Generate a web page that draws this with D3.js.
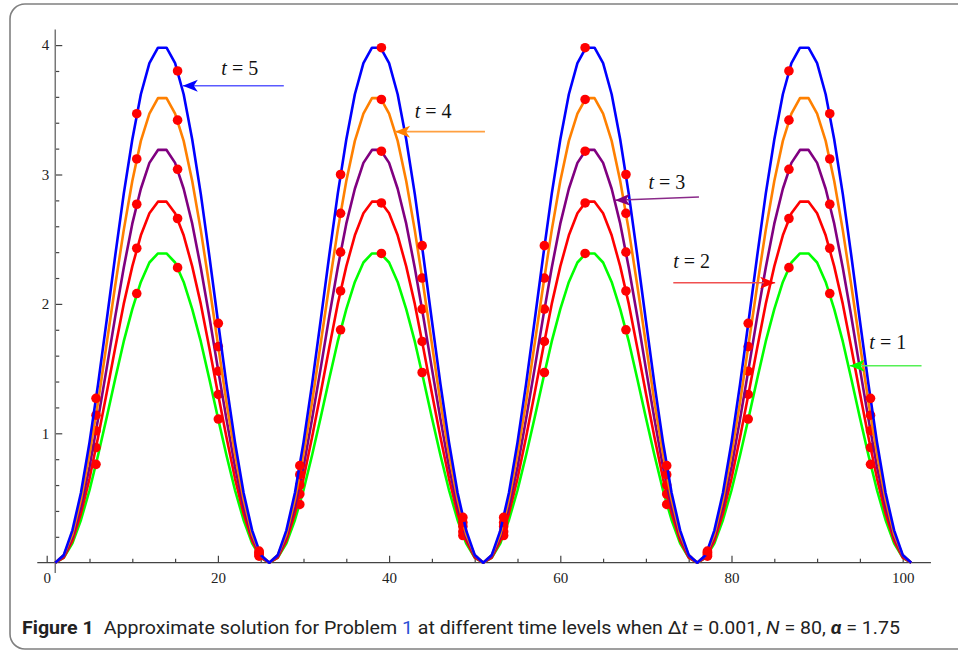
<!DOCTYPE html>
<html>
<head>
<meta charset="utf-8">
<script src="https://cdn.jsdelivr.net/npm/d3@7"></script>
<style>
  body { margin: 0; background: #fff; }
  svg { display: block; }
</style>
</head>
<body>
<script>
// numerical solution at nodes x = 1..101 (index as x, like ListLinePlot)
const u1 = [
  0, 0.04, 0.15, 0.33, 0.56, 0.83, 1.12, 1.42, 1.71, 1.96, 2.17, 2.32, 2.39, 2.39, 2.32, 2.17, 1.96, 1.71, 1.42, 1.12, 0.83, 0.56, 0.33, 0.15, 0.04,
  0, 0.04, 0.15, 0.33, 0.56, 0.83, 1.12, 1.42, 1.71, 1.96, 2.17, 2.32, 2.39, 2.39, 2.32, 2.17, 1.96, 1.71, 1.42, 1.12, 0.83, 0.56, 0.33, 0.15, 0.04,
  0, 0.04, 0.15, 0.33, 0.56, 0.83, 1.12, 1.42, 1.71, 1.96, 2.17, 2.32, 2.39, 2.39, 2.32, 2.17, 1.96, 1.71, 1.42, 1.12, 0.83, 0.56, 0.33, 0.15, 0.04,
  0, 0.04, 0.15, 0.33, 0.56, 0.83, 1.12, 1.42, 1.71, 1.96, 2.17, 2.32, 2.39, 2.39, 2.32, 2.17, 1.96, 1.71, 1.42, 1.12, 0.83, 0.56, 0.33, 0.15, 0.04,
  0
];
const u2 = [
  0, 0.04, 0.17, 0.38, 0.65, 0.97, 1.31, 1.66, 2.00, 2.29, 2.53, 2.70, 2.79, 2.79, 2.70, 2.53, 2.29, 2.00, 1.66, 1.31, 0.97, 0.65, 0.38, 0.17, 0.04,
  0, 0.04, 0.17, 0.38, 0.65, 0.97, 1.31, 1.66, 2.00, 2.29, 2.53, 2.70, 2.79, 2.79, 2.70, 2.53, 2.29, 2.00, 1.66, 1.31, 0.97, 0.65, 0.38, 0.17, 0.04,
  0, 0.04, 0.17, 0.38, 0.65, 0.97, 1.31, 1.66, 2.00, 2.29, 2.53, 2.70, 2.79, 2.79, 2.70, 2.53, 2.29, 2.00, 1.66, 1.31, 0.97, 0.65, 0.38, 0.17, 0.04,
  0, 0.04, 0.17, 0.38, 0.65, 0.97, 1.31, 1.66, 2.00, 2.29, 2.53, 2.70, 2.79, 2.79, 2.70, 2.53, 2.29, 2.00, 1.66, 1.31, 0.97, 0.65, 0.38, 0.17, 0.04,
  0
];
const u3 = [
  0, 0.05, 0.20, 0.43, 0.74, 1.11, 1.50, 1.90, 2.28, 2.62, 2.89, 3.09, 3.19, 3.19, 3.09, 2.89, 2.62, 2.28, 1.90, 1.50, 1.11, 0.74, 0.43, 0.20, 0.05,
  0, 0.05, 0.20, 0.43, 0.74, 1.11, 1.50, 1.90, 2.28, 2.62, 2.89, 3.09, 3.19, 3.19, 3.09, 2.89, 2.62, 2.28, 1.90, 1.50, 1.11, 0.74, 0.43, 0.20, 0.05,
  0, 0.05, 0.20, 0.43, 0.74, 1.11, 1.50, 1.90, 2.28, 2.62, 2.89, 3.09, 3.19, 3.19, 3.09, 2.89, 2.62, 2.28, 1.90, 1.50, 1.11, 0.74, 0.43, 0.20, 0.05,
  0, 0.05, 0.20, 0.43, 0.74, 1.11, 1.50, 1.90, 2.28, 2.62, 2.89, 3.09, 3.19, 3.19, 3.09, 2.89, 2.62, 2.28, 1.90, 1.50, 1.11, 0.74, 0.43, 0.20, 0.05,
  0
];
const u4 = [
  0, 0.06, 0.22, 0.49, 0.84, 1.24, 1.69, 2.14, 2.57, 2.95, 3.26, 3.47, 3.59, 3.59, 3.47, 3.26, 2.95, 2.57, 2.14, 1.69, 1.24, 0.84, 0.49, 0.22, 0.06,
  0, 0.06, 0.22, 0.49, 0.84, 1.24, 1.69, 2.14, 2.57, 2.95, 3.26, 3.47, 3.59, 3.59, 3.47, 3.26, 2.95, 2.57, 2.14, 1.69, 1.24, 0.84, 0.49, 0.22, 0.06,
  0, 0.06, 0.22, 0.49, 0.84, 1.24, 1.69, 2.14, 2.57, 2.95, 3.26, 3.47, 3.59, 3.59, 3.47, 3.26, 2.95, 2.57, 2.14, 1.69, 1.24, 0.84, 0.49, 0.22, 0.06,
  0, 0.06, 0.22, 0.49, 0.84, 1.24, 1.69, 2.14, 2.57, 2.95, 3.26, 3.47, 3.59, 3.59, 3.47, 3.26, 2.95, 2.57, 2.14, 1.69, 1.24, 0.84, 0.49, 0.22, 0.06,
  0
];
const u5 = [
  0, 0.06, 0.25, 0.54, 0.93, 1.38, 1.87, 2.37, 2.85, 3.27, 3.62, 3.86, 3.98, 3.98, 3.86, 3.62, 3.27, 2.85, 2.37, 1.87, 1.38, 0.93, 0.54, 0.25, 0.06,
  0, 0.06, 0.25, 0.54, 0.93, 1.38, 1.87, 2.37, 2.85, 3.27, 3.62, 3.86, 3.98, 3.98, 3.86, 3.62, 3.27, 2.85, 2.37, 1.87, 1.38, 0.93, 0.54, 0.25, 0.06,
  0, 0.06, 0.25, 0.54, 0.93, 1.38, 1.87, 2.37, 2.85, 3.27, 3.62, 3.86, 3.98, 3.98, 3.86, 3.62, 3.27, 2.85, 2.37, 1.87, 1.38, 0.93, 0.54, 0.25, 0.06,
  0, 0.06, 0.25, 0.54, 0.93, 1.38, 1.87, 2.37, 2.85, 3.27, 3.62, 3.86, 3.98, 3.98, 3.86, 3.62, 3.27, 2.85, 2.37, 1.87, 1.38, 0.93, 0.54, 0.25, 0.06,
  0
];

// exact solution points (red dots)
const dotX = [5.76, 10.52, 15.29, 20.05, 24.81, 29.57, 34.33, 39.10, 43.86, 48.62,
              53.38, 58.14, 62.90, 67.67, 72.43, 77.19, 81.95, 86.71, 91.48, 96.24];
const e1 = [0.76, 2.08, 2.28, 1.11, 0.05, 0.45, 1.80, 2.39, 1.47, 0.21, 0.21, 1.47, 2.39, 1.80, 0.45, 0.05, 1.11, 2.28, 2.08, 0.76];
const e2 = [0.89, 2.43, 2.66, 1.30, 0.06, 0.53, 2.10, 2.78, 1.71, 0.24, 0.24, 1.71, 2.78, 2.10, 0.53, 0.06, 1.30, 2.66, 2.43, 0.89];
const e3 = [1.02, 2.77, 3.04, 1.48, 0.07, 0.60, 2.40, 3.18, 1.96, 0.28, 0.28, 1.96, 3.18, 2.40, 0.60, 0.07, 1.48, 3.04, 2.77, 1.02];
const e4 = [1.14, 3.12, 3.42, 1.67, 0.08, 0.68, 2.70, 3.58, 2.20, 0.31, 0.31, 2.20, 3.58, 2.70, 0.68, 0.08, 1.67, 3.42, 3.12, 1.14];
const e5 = [1.27, 3.47, 3.80, 1.85, 0.09, 0.75, 3.00, 3.98, 2.45, 0.35, 0.35, 2.45, 3.98, 3.00, 0.75, 0.09, 1.85, 3.80, 3.47, 1.27];

// tick values
const xMajor = [0, 20, 40, 60, 80, 100];
const xMinor = [5, 10, 15, 25, 30, 35, 45, 50, 55, 65, 70, 75, 85, 90, 95];
const yMajor = [1, 2, 3, 4];
const yMinor = [0.2, 0.4, 0.6, 0.8, 1.2, 1.4, 1.6, 1.8, 2.2, 2.4, 2.6, 2.8, 3.2, 3.4, 3.6, 3.8];

// arrow labels: t, label position, arrow tail and tip (data coords)
const labelT = [1, 2, 3, 4, 5];
const labelPos = [[96.1, 1.65], [73.2, 2.275], [70.3, 2.886], [43.0, 3.437], [20.4, 3.77]];
const arrowTail = [[102.2, 1.522], [73.2, 2.164], [76.2, 2.826], [51.2, 3.331], [27.7, 3.686]];
const arrowTip = [[93.8, 1.522], [85.1, 2.164], [66.4, 2.801], [40.7, 3.331], [15.9, 3.686]];

const colors = ["#00ff00", "#ff0000", "#800080", "#ff8000", "#0000ff"];
const arrowColors = ["#55f055", "#f05050", "#8a2a8a", "#ffa040", "#5a5aff"];

const W = 958, H = 651;
const svg = d3.select("body").append("svg").attr("width", W).attr("height", H);

// figure frame
svg.append("rect")
  .attr("x", 10).attr("y", 4)
  .attr("width", 1000).attr("height", 645)
  .attr("rx", 15).attr("ry", 15)
  .attr("fill", "none").attr("stroke", "#808080").attr("stroke-width", 1.6);

const x = d3.scaleLinear().domain([0, 100]).range([46.7, 902.7]);
const y = d3.scaleLinear().domain([0, 4]).range([562.7, 45.1]);

const axisColor = "#444";

// x axis
const gx = svg.append("g").attr("transform", `translate(0,${y(0)})`);
gx.call(d3.axisBottom(x).tickValues(xMajor).tickSize(-7).tickPadding(10).tickFormat(d3.format("d")));
gx.append("g").call(d3.axisBottom(x).tickValues(xMinor).tickSize(-4).tickFormat(""));
gx.selectAll(".domain").remove();
gx.append("line").attr("x1", x(-1.1)).attr("x2", x(103.3)).attr("stroke", axisColor).attr("stroke-width", 1.3);

// y axis
const gy = svg.append("g").attr("transform", `translate(${x(1)},0)`);
gy.call(d3.axisLeft(y).tickValues(yMajor).tickSize(-7).tickPadding(6).tickFormat(d3.format("d")));
gy.append("g").call(d3.axisLeft(y).tickValues(yMinor).tickSize(-4).tickFormat(""));
gy.selectAll(".domain").remove();
gy.append("line").attr("y1", y(-0.08)).attr("y2", y(4.12)).attr("stroke", "#777").attr("stroke-width", 1.5);

svg.selectAll(".tick line").attr("stroke", axisColor).attr("stroke-width", 1.2);
svg.selectAll(".tick text")
  .attr("font-family", "'Liberation Serif', 'DejaVu Serif', serif")
  .attr("font-size", 15).attr("fill", "#222");

// series lines + dots
const series = [u1, u2, u3, u4, u5];
const exact = [e1, e2, e3, e4, e5];
const line = d3.line().x((d, i) => x(i + 1)).y(d => y(d));

series.forEach((s, k) => {
  svg.append("path")
    .attr("d", line(s))
    .attr("fill", "none")
    .attr("stroke", colors[k])
    .attr("stroke-width", 2.6)
    .attr("stroke-linejoin", "round");
  svg.append("g").selectAll("circle")
    .data(exact[k])
    .join("circle")
    .attr("cx", (d, i) => x(dotX[i]))
    .attr("cy", d => y(d))
    .attr("r", 4.8)
    .attr("fill", "#ff0000");
});

// arrow heads
const defs = svg.append("defs");
arrowColors.forEach((c, k) => {
  defs.append("marker")
    .attr("id", "head" + k)
    .attr("markerUnits", "userSpaceOnUse")
    .attr("viewBox", "-16 -8 18 16")
    .attr("refX", 0).attr("refY", 0)
    .attr("markerWidth", 18).attr("markerHeight", 16)
    .attr("orient", "auto")
    .append("path")
    .attr("d", "M0,0 L-15,-6 L-11,0 L-15,6 Z")
    .attr("fill", colors[k]);
});

labelT.forEach((t, k) => {
  svg.append("line")
    .attr("x1", x(arrowTail[k][0])).attr("y1", y(arrowTail[k][1]))
    .attr("x2", x(arrowTip[k][0])).attr("y2", y(arrowTip[k][1]))
    .attr("stroke", arrowColors[k]).attr("stroke-width", 1.6)
    .attr("marker-end", `url(#head${k})`);
  const txt = svg.append("text")
    .attr("x", x(labelPos[k][0])).attr("y", y(labelPos[k][1]))
    .attr("font-family", "'Liberation Serif', 'DejaVu Serif', serif")
    .attr("font-size", 20).attr("fill", "#111");
  txt.append("tspan").attr("font-style", "italic").text("t");
  txt.append("tspan").text(" = " + t);
});

// caption
const cap = svg.append("text")
  .attr("x", 22).attr("y", 634)
  .attr("font-family", "'Liberation Sans Narrow', 'Roboto', 'Open Sans', sans-serif")
  .attr("font-size", 18).attr("fill", "#222");
cap.append("tspan").attr("font-weight", "bold").text("Figure 1");
cap.append("tspan").text("\u2002Approximate solution for Problem ");
cap.append("tspan").attr("fill", "#2b4fd6").text("1");
cap.append("tspan").text(" at different time levels when \u0394");
cap.append("tspan").attr("font-style", "italic").text("t");
cap.append("tspan").text(" = 0.001, ");
cap.append("tspan").attr("font-style", "italic").text("N");
cap.append("tspan").text(" = 80, ");
cap.append("tspan").attr("font-style", "italic").attr("font-weight", "bold").text("\u03b1");
cap.append("tspan").text(" = 1.75");
const capLen = cap.node().getComputedTextLength();
if (Math.abs(capLen - 878) > 4) {
  cap.attr("textLength", 878).attr("lengthAdjust", "spacingAndGlyphs");
}
</script>
</body>
</html>
